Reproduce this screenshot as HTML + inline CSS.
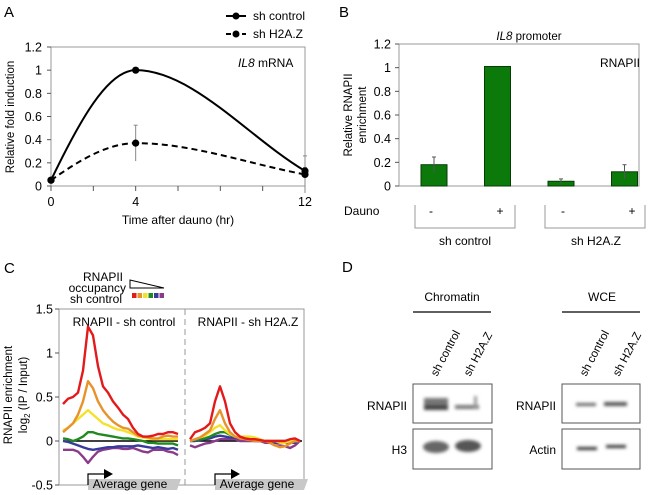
<!DOCTYPE html>
<html><head><meta charset="utf-8"><style>
html,body{margin:0;padding:0;background:#fff;}
svg{display:block;font-family:"Liberation Sans",Arial,sans-serif;}
</style></head><body>
<svg id="fig" width="662" height="495" viewBox="0 0 662 495" xmlns="http://www.w3.org/2000/svg">
<defs>
<filter id="blur1" x="-20%" y="-50%" width="140%" height="200%"><feGaussianBlur stdDeviation="1.6"/></filter>
</defs>
<g id="panelA">
<text x="4" y="17" font-size="15">A</text>
<rect x="51" y="47" width="254" height="139" fill="none" stroke="#999"/>
<g id="aAxes"></g>
<text x="238" y="67" font-size="12"><tspan font-style="italic">IL8</tspan> mRNA</text>
<text transform="translate(14,117) rotate(-90)" text-anchor="middle" font-size="11.5">Relative fold induction</text>
<text x="178" y="224" text-anchor="middle" font-size="12">Time after dauno (hr)</text>
<g>
<line x1="226" y1="16" x2="246" y2="16" stroke="#000" stroke-width="2"/>
<circle cx="236" cy="16" r="3.5"/>
<text x="253" y="20" font-size="12">sh control</text>
<line x1="226" y1="34" x2="246" y2="34" stroke="#000" stroke-width="2" stroke-dasharray="5,3"/>
<circle cx="236" cy="34" r="3.5"/>
<text x="253" y="38" font-size="12">sh H2A.Z</text>
</g>
<g id="aSeries"></g>
</g>
<g id="panelB">
<text x="339" y="17" font-size="15">B</text>
<rect x="399" y="44" width="240" height="142" fill="none" stroke="#999"/>
<text x="529" y="40" text-anchor="middle" font-size="11.5"><tspan font-style="italic">IL8</tspan> promoter</text>
<text x="600" y="67" font-size="12">RNAPII</text>
<text transform="translate(352,115) rotate(-90)" text-anchor="middle" font-size="11.5">Relative RNAPII</text>
<text transform="translate(366,115) rotate(-90)" text-anchor="middle" font-size="11.5">enrichment</text>
<g id="bAxes"></g>
<g id="bBars"></g>
<text x="344" y="215" font-size="12">Dauno</text>
<polyline points="415,205 415,228 515,228 515,205" fill="none" stroke="#999"/>
<polyline points="545,205 545,228 645,228 645,205" fill="none" stroke="#999"/>
<text x="431" y="215" font-size="12" text-anchor="middle">-</text>
<text x="500" y="215" font-size="12" text-anchor="middle">+</text>
<text x="563" y="215" font-size="12" text-anchor="middle">-</text>
<text x="632" y="215" font-size="12" text-anchor="middle">+</text>
<text x="465" y="245" font-size="12" text-anchor="middle">sh control</text>
<text x="596" y="245" font-size="12" text-anchor="middle">sh H2A.Z</text>
</g>
<g id="panelC">
<text x="4" y="273" font-size="15">C</text>
<text x="123" y="281" font-size="12" text-anchor="end">RNAPII</text>
<text x="126" y="292" font-size="12" text-anchor="end">occupancy</text>
<text x="122" y="303" font-size="12" text-anchor="end">sh control</text>
<polygon points="130,280 130,288 164,288" fill="#fff" stroke="#000"/>
<g id="cLegend"></g>
<rect x="59" y="309" width="245" height="176" fill="none" stroke="#999"/>
<line x1="185" y1="309" x2="185" y2="485" stroke="#999" stroke-dasharray="6,4"/>
<g id="cAxes"></g>
<text transform="translate(12,395) rotate(-90)" text-anchor="middle" font-size="11.5">RNAPII enrichment</text>
<text transform="translate(27,395) rotate(-90)" text-anchor="middle" font-size="11.5">log<tspan font-size="8" dy="3">2</tspan><tspan dy="-3"> (IP / Input)</tspan></text>
<text x="124" y="326" text-anchor="middle" font-size="12">RNAPII - sh control</text>
<text x="248" y="326" text-anchor="middle" font-size="12">RNAPII - sh H2A.Z</text>
<line x1="63" y1="441" x2="178" y2="441" stroke="#000" stroke-width="1.5"/>
<line x1="190" y1="441" x2="302" y2="441" stroke="#000" stroke-width="1.5"/>
<g id="cLines"></g>
<polygon points="88,479 181,479 177,490 88,490" fill="#c8c8c8"/>
<text x="130" y="488" text-anchor="middle" font-size="12">Average gene</text>
<polyline points="88,485 88,474 106,474" fill="none" stroke="#000" stroke-width="1.2"/>
<polygon points="104,469 113,474 104,479" fill="#000"/>
<polygon points="215,479 308,479 304,490 215,490" fill="#c8c8c8"/>
<text x="257" y="488" text-anchor="middle" font-size="12">Average gene</text>
<polyline points="215,485 215,474 233,474" fill="none" stroke="#000" stroke-width="1.2"/>
<polygon points="231,469 240,474 231,479" fill="#000"/>
</g>
<g id="panelD">
<text x="342" y="272" font-size="15">D</text>
<text x="452" y="301" text-anchor="middle" font-size="12">Chromatin</text>
<line x1="413" y1="312" x2="491" y2="312" stroke="#000" stroke-width="1.2"/>
<text x="602" y="301" text-anchor="middle" font-size="12">WCE</text>
<line x1="562" y1="312" x2="640" y2="312" stroke="#000" stroke-width="1.2"/>
<text transform="translate(437,377) rotate(-62)" font-size="11.5">sh control</text>
<text transform="translate(470,377) rotate(-62)" font-size="11.5">sh H2A.Z</text>
<text transform="translate(586,377) rotate(-62)" font-size="11.5">sh control</text>
<text transform="translate(619,377) rotate(-62)" font-size="11.5">sh H2A.Z</text>
<rect x="413" y="384" width="79" height="39" fill="#fff" stroke="#555"/>
<rect x="413" y="429" width="79" height="40" fill="#fff" stroke="#555"/>
<rect x="562" y="384" width="78" height="39" fill="#fff" stroke="#555"/>
<rect x="562" y="429" width="78" height="40" fill="#fff" stroke="#555"/>
<text x="407" y="410" text-anchor="end" font-size="12">RNAPII</text>
<text x="407" y="454" text-anchor="end" font-size="12">H3</text>
<text x="556" y="410" text-anchor="end" font-size="12">RNAPII</text>
<text x="556" y="454" text-anchor="end" font-size="12">Actin</text>
<g filter="url(#blur1)">
<rect x="424" y="398" width="24" height="7" fill="#777"/>
<rect x="424" y="405" width="24" height="5" fill="#444"/>
<rect x="455" y="405" width="24" height="4" fill="#777"/>
<rect x="474" y="396" width="3" height="12" fill="#999"/>
<ellipse cx="436" cy="447" rx="13" ry="6" fill="#666"/>
<ellipse cx="468" cy="446" rx="13" ry="6" fill="#555"/>
<rect x="576" y="403" width="20" height="3" fill="#666"/>
<rect x="604" y="402" width="23" height="4" fill="#555"/>
<rect x="577" y="447" width="20" height="3" fill="#333"/>
<rect x="606" y="445" width="20" height="3" fill="#333"/>
</g>
</g>
</svg>
<script>
// ---------- Panel A data ----------
const aTimes = [0, 4, 12];
const aControl = [0.05, 1.0, 0.13];
const aH2AZ = [0.05, 0.37, 0.1];
const aH2AZErr = [0.0, 0.155, 0.16];
const aControlErr = [0.0, 0.0, 0.03];
const aYTicks = [0, 0.2, 0.4, 0.6, 0.8, 1, 1.2];
const aYTickLabels = ["0", "0.2", "0.4", "0.6", "0.8", "1", "1.2"];
const aXTicks = [0, 2, 4, 6, 8, 10, 12];
const aXTickLabels = ["0", "", "4", "", "", "", "12"];
// ---------- Panel B data ----------
const bCategories = ["ctrl-minus", "ctrl-plus", "h2az-minus", "h2az-plus"];
const bValues = [0.18, 1.01, 0.04, 0.12];
const bErrors = [0.065, 0, 0.02, 0.06];
const bYTicks = [0, 0.2, 0.4, 0.6, 0.8, 1, 1.2];
const bYTickLabels = ["0", "0.2", "0.4", "0.6", "0.8", "1", "1.2"];
// ---------- Panel C data ----------
const cYTicks = [-0.5, 0, 0.5, 1, 1.5];
const cYTickLabels = ["-0.5", "0", "0.5", "1", "1.5"];
const cColors = ["#e31a1c", "#e8922c", "#f5e12a", "#1f8a1f", "#3a3a9e", "#8a3c8a"];
const cNames = ["red", "orange", "yellow", "green", "blue", "purple"];
const cLeftRed = [.42,.48,.5,.55,.8,1.3,1.2,.85,.62,.55,.45,.38,.30,.25,.15,.08,.05,.05,.06,.08,.08,.1,.1,.08];
const cLeftOrange = [.1,.15,.2,.3,.45,.68,.6,.45,.35,.28,.22,.18,.15,.14,.1,.06,.05,.04,.03,.03,.05,.06,.05,.05];
const cLeftYellow = [.12,.15,.2,.25,.3,.35,.3,.25,.2,.18,.15,.13,.12,.1,.08,.05,.04,.03,.02,.02,.02,.02,.02,.02];
const cLeftGreen = [.03,.02,0,.02,.05,.1,.1,.08,.07,.06,.05,.04,.03,.03,.02,.01,0,-.02,-.02,-.03,-.03,-.03,-.03,-.05];
const cLeftBlue = [0,-.01,-.03,-.05,-.07,-.09,-.1,-.09,-.08,-.07,-.07,-.06,-.06,-.06,-.06,-.05,-.06,-.07,-.08,-.07,-.08,-.09,-.08,-.1];
const cLeftPurple = [-.1,-.1,-.1,-.12,-.18,-.25,-.18,-.12,-.1,-.09,-.08,-.08,-.09,-.09,-.08,-.1,-.12,-.13,-.1,-.1,-.1,-.12,-.13,-.16];
const cRightRed = [.02,.1,.12,.15,.2,.45,.62,.45,.2,.1,.05,.03,.02,.02,.01,0,0,0,0,0,.02,.03,0];
const cRightOrange = [0,.02,.04,.08,.12,.25,.35,.2,.1,.05,.03,.02,.01,0,0,0,-.02,-.05,-.07,-.06,-.03,0,0];
const cRightYellow = [0,.02,.04,.06,.1,.15,.18,.12,.08,.05,.05,.05,.05,.04,.02,0,0,0,-.02,-.02,0,0,0];
const cRightGreen = [0,.01,.02,.03,.05,.08,.1,.1,.07,.05,.04,.03,.02,.02,0,0,0,0,0,0,0,0,0];
const cRightBlue = [0,0,.01,.02,.03,.05,.06,.05,.04,.04,.03,.02,.02,0,0,0,0,-.02,-.02,-.02,-.02,-.02,0];
const cRightPurple = [-.05,-.07,-.05,-.03,-.02,0,.02,.02,.02,.02,0,0,0,0,0,-.02,-.02,-.05,-.05,-.06,-.08,-.05,0];

const NS = "http://www.w3.org/2000/svg";
function mk(tag, attrs, parent) {
  const e = document.createElementNS(NS, tag);
  for (const k in attrs) e.setAttribute(k, attrs[k]);
  parent.appendChild(e);
  return e;
}

// ----- Panel A -----
const ax = t => 51 + (t / 12) * 254;
const ay = v => 186 - (v / 1.2) * 139;
const aAxes = document.getElementById("aAxes");
aYTicks.forEach((v, i) => {
  const t = mk("text", {x: 42, y: ay(v) + 4.5, "text-anchor": "end", "font-size": 12.5}, aAxes);
  t.textContent = aYTickLabels[i];
  
  
  const l = mk("line", {x1: 47, x2: 51, y1: ay(v), y2: ay(v), stroke: "#555"}, aAxes);
  
  
});
aXTicks.forEach((v, i) => {
  const l = mk("line", {x1: ax(v), x2: ax(v), y1: 186, y2: 191, stroke: "#555"}, aAxes);
  
  
  if (aXTickLabels[i]) {
    const t = mk("text", {x: ax(v), y: 206, "text-anchor": "middle", "font-size": 12.5}, aAxes);
    t.textContent = aXTickLabels[i];
    
    
  }
});
function smoothPath(xs, ys) {
  const px = xs.map(ax), py = ys.map(ay);
  const m = [];
  for (let i = 0; i < px.length; i++) {
    if (i === 0) m.push(1.6 * (py[1] - py[0]) / (px[1] - px[0]));
    else if (i === px.length - 1) m.push((py[i] - py[i - 1]) / (px[i] - px[i - 1]));
    else m.push(0);
  }
  let d = `M${px[0]},${py[0]}`;
  for (let i = 0; i < px.length - 1; i++) {
    const dx = px[i + 1] - px[i];
    d += ` C${px[i] + dx / 3},${py[i] + m[i] * dx / 3} ${px[i + 1] - dx / 3},${py[i + 1] - m[i + 1] * dx / 3} ${px[i + 1]},${py[i + 1]}`;
  }
  return d;
}
const aSeries = document.getElementById("aSeries");
[[aH2AZ, aH2AZErr, "sh-h2az", "6,4"], [aControl, aControlErr, "sh-control", null]].forEach(([vals, errs, name, dash]) => {
  errs.forEach((e, i) => {
    if (e > 0) {
      const el = mk("line", {x1: ax(aTimes[i]), x2: ax(aTimes[i]), y1: ay(vals[i] - e), y2: ay(vals[i] + e), stroke: "#888"}, aSeries);
      
      
      const c1 = mk("line", {x1: ax(aTimes[i]) - 2, x2: ax(aTimes[i]) + 2, y1: ay(vals[i] + e), y2: ay(vals[i] + e), stroke: "#888"}, aSeries);
      
      
    }
  });
  const p = mk("path", {d: smoothPath(aTimes, vals), fill: "none", stroke: "#000", "stroke-width": 2}, aSeries);
  if (dash) p.setAttribute("stroke-dasharray", dash);
  
  
  vals.forEach((v, i) => {
    const c = mk("circle", {cx: ax(aTimes[i]), cy: ay(v), r: 3.6, fill: "#000"}, aSeries);
    
    
  });
});

// ----- Panel B -----
const by = v => 186 - (v / 1.2) * 142;
const bCenters = i => 434 + i * 63.5;
const bAxes = document.getElementById("bAxes");
bYTicks.forEach((v, i) => {
  const t = mk("text", {x: 391, y: by(v) + 4.5, "text-anchor": "end", "font-size": 12.5}, bAxes);
  t.textContent = bYTickLabels[i];
  
  
  const l = mk("line", {x1: 395, x2: 399, y1: by(v), y2: by(v), stroke: "#555"}, bAxes);
  
  
});
const bBars = document.getElementById("bBars");
bValues.forEach((v, i) => {
  const r = mk("rect", {x: bCenters(i) - 13, y: by(v), width: 26, height: by(0) - by(v), fill: "#0b7a0b", stroke: "#063d06", "stroke-width": 1}, bBars);
  
  
  if (bErrors[i] > 0) {
    const e = mk("line", {x1: bCenters(i), x2: bCenters(i), y1: by(v - bErrors[i]), y2: by(v + bErrors[i]), stroke: "#555"}, bBars);
    
    
    const c = mk("line", {x1: bCenters(i) - 2, x2: bCenters(i) + 2, y1: by(v + bErrors[i]), y2: by(v + bErrors[i]), stroke: "#555"}, bBars);
    
    
  }
});

// ----- Panel C -----
const cy = v => 441 - v * 88;
const cAxes = document.getElementById("cAxes");
cYTicks.forEach((v, i) => {
  const t = mk("text", {x: 53, y: cy(v) + 4.5, "text-anchor": "end", "font-size": 12.5}, cAxes);
  t.textContent = cYTickLabels[i];
  
  
  const l = mk("line", {x1: 55, x2: 59, y1: cy(v), y2: cy(v), stroke: "#555"}, cAxes);
  
  
});
const cLeg = document.getElementById("cLegend");
cColors.forEach((c, i) => {
  const r = mk("rect", {x: 132 + i * 5.5, y: 293, width: 4.5, height: 5, fill: c}, cLeg);
  
  
});
const cLines = document.getElementById("cLines");
const leftSets = [cLeftRed, cLeftOrange, cLeftYellow, cLeftGreen, cLeftBlue, cLeftPurple];
const rightSets = [cRightRed, cRightOrange, cRightYellow, cRightGreen, cRightBlue, cRightPurple];
function drawProfile(vals, x0, x1, color, name) {
  const n = vals.length;
  const pts = vals.map((v, i) => `${(x0 + (x1 - x0) * i / (n - 1)).toFixed(1)},${cy(v).toFixed(1)}`).join(" ");
  const p = mk("polyline", {points: pts, fill: "none", stroke: color, "stroke-width": 2.4, "stroke-linejoin": "round"}, cLines);
  
  
}
for (let i = 5; i >= 0; i--) {
  drawProfile(leftSets[i], 63, 178, cColors[i], 'profile-sh-control-' + cNames[i]);
  drawProfile(rightSets[i], 190, 300, cColors[i], 'profile-sh-h2az-' + cNames[i]);
}
</script>
</body></html>
